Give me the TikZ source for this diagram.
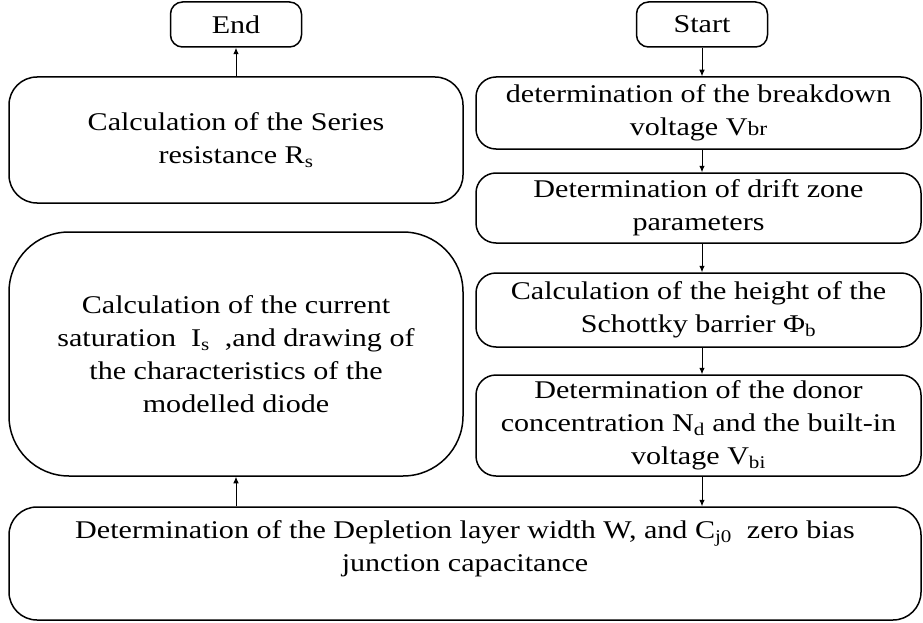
\documentclass[tikz,border=0pt]{standalone}
\usepackage{fontspec}
\setmainfont{Liberation Serif}[FakeStretch=1.18]
\usepackage{tikz}
\usetikzlibrary{positioning,arrows.meta}

\begin{document}
\begin{tikzpicture}[x=1pt, y=1pt,
  every node/.style={font=\fontsize{25.5}{33}\selectfont, text=black},
  term/.style={draw, rounded corners=12pt, line width=1.5pt,
               minimum width=131pt, minimum height=45pt, inner sep=0pt},
  lbox/.style={draw, rounded corners=28pt, line width=1.5pt,
               minimum width=454pt, align=center, inner sep=0pt},
  rbox/.style={draw, rounded corners=20pt, line width=1.5pt,
               minimum width=445pt, align=center, inner sep=0pt},
  arrow/.style={-{Latex[length=6.5pt,width=5.5pt]}, line width=0.9pt}]
\useasboundingbox (0,0) rectangle (923,-623);
\node[term] (end)   at (236,-24.5) {End};
\node[term] (start) at (702,-24.5) {Start};
\node[lbox, minimum height=126pt] (series) at (236,-140)
  {Calculation of the Series\\resistance R\textsubscript{s}};
\node[lbox, minimum height=244pt, rounded corners=60pt] (curr) at (236,-354)
  {Calculation of the current\\saturation~~I\textsubscript{s}~~,and drawing of\\the characteristics of the\\modelled diode};
\node[rbox, minimum height=72pt]  (vbr)      at (698.5,-113)
  {determination of the breakdown\\voltage V{\fontsize{20}{24}\selectfont br}};
\node[rbox, minimum height=70pt]  (drift)    at (698.5,-208)
  {Determination of drift zone\\parameters};
\node[rbox, minimum height=74pt]  (schottky) at (698.5,-310)
  {Calculation of the height of the\\Schottky barrier Φ\textsubscript{b}};
\node[rbox, minimum height=101pt] (donor)    at (698.5,-425.5)
  {Determination of the donor\\concentration N\textsubscript{d} and the built-in\\voltage V\textsubscript{bi}};
\node[lbox, minimum width=912pt, minimum height=113pt, text depth=35pt] (depl) at (465,-563.5)
  {Determination of the Depletion layer width W, and C\textsubscript{j0}~~zero bias\\junction capacitance};
% connectors
\draw[arrow] (series) -- (end);
\draw[arrow] (start.south) -- (start.south |- vbr.north);
\foreach \a/\b in {vbr/drift, drift/schottky, schottky/donor, donor/depl}
  {\draw[arrow] (\a.south -| start) -- (\b.north -| start);}
\draw[arrow] (depl.north -| curr) -- (curr.south);
\end{tikzpicture}
\end{document}
